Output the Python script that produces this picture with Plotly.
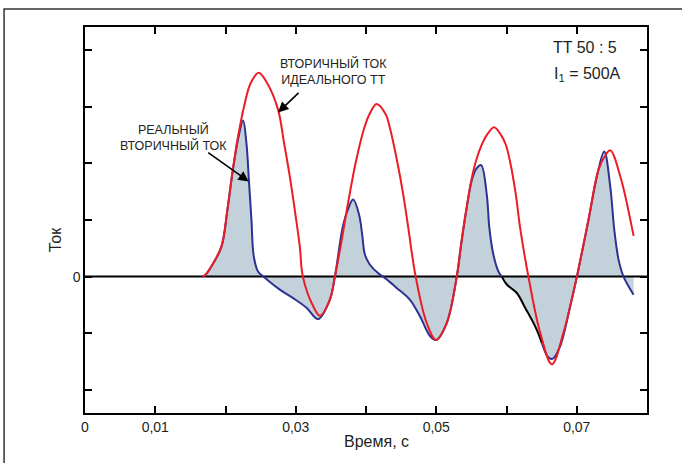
import plotly.graph_objects as go

# ---- data (time in s, current in relative units) ----
time_ideal = [0.01671, 0.01718, 0.01799, 0.01942, 0.02027, 0.02098, 0.02178, 0.02274, 0.02359,
              0.02473, 0.02592, 0.02748, 0.02834, 0.02915, 0.02986, 0.03058, 0.03101, 0.03247,
              0.03343, 0.03485, 0.03557, 0.03642, 0.03723, 0.03856, 0.03974, 0.04046, 0.04151,
              0.04284, 0.04341, 0.04445, 0.04530, 0.04602, 0.04707, 0.04864, 0.04996, 0.05149,
              0.05292, 0.05353, 0.05424, 0.05505, 0.05562, 0.05648, 0.05719, 0.05823, 0.05923,
              0.05990, 0.06051, 0.06133, 0.06194, 0.06312, 0.06479, 0.06646, 0.06811,
              0.07002, 0.07168, 0.07310, 0.07401, 0.07477, 0.07620, 0.07809]
current_ideal = [0.0, 0.035, 0.18, 0.53, 1.18, 1.83, 2.47, 3.06, 3.42,
                 3.60, 3.42, 2.95, 2.36, 1.77, 1.18, 0.53, 0.0, -0.52,
                 -0.69, -0.41, 0.0, 0.56, 1.15, 2.03, 2.62, 2.86, 3.05,
                 2.86, 2.62, 2.03, 1.45, 0.86, 0.0, -0.82, -1.12, -0.82,
                 0.0, 0.56, 1.15, 1.74, 2.03, 2.33, 2.50, 2.64, 2.50,
                 2.33, 2.03, 1.45, 0.86, 0.0, -0.99, -1.55, -0.99,
                 0.0, 1.01, 1.89, 2.13, 2.23, 1.77, 0.72]

time_real = [0.01671, 0.01718, 0.01799, 0.01942, 0.02027, 0.02098, 0.02178, 0.02250, 0.02298,
             0.02335, 0.02369, 0.02402, 0.02463, 0.02559, 0.02773, 0.02962, 0.03153, 0.03319,
             0.03485, 0.03557, 0.03666, 0.03732, 0.03817, 0.03902, 0.03946, 0.03984, 0.04056,
             0.04198, 0.04245, 0.04436, 0.04626, 0.04768, 0.04911, 0.04996, 0.05149, 0.05292,
             0.05353, 0.05424, 0.05505, 0.05567, 0.05638, 0.05719, 0.05756, 0.05813, 0.05885, 0.05933,
             0.06004, 0.06147, 0.06265, 0.06408, 0.06503,
             0.06597, 0.06660, 0.06764, 0.06907, 0.07002, 0.07168, 0.07292, 0.07391, 0.07477,
             0.07534, 0.07595, 0.07666, 0.07809]
current_real = [0.0, 0.035, 0.18, 0.53, 1.18, 1.83, 2.42, 2.76, 2.36,
                1.66, 1.01, 0.36, 0.09, -0.02, -0.23, -0.38, -0.55, -0.75,
                -0.41, 0.0, 0.86, 1.15, 1.36, 1.09, 0.74, 0.39, 0.21,
                0.035, 0.0, -0.20, -0.41, -0.70, -1.05, -1.12, -0.82, 0.0,
                0.56, 1.15, 1.70, 1.90, 1.97, 1.45, 0.86, 0.39, 0.09, 0.0,
                -0.14, -0.29, -0.55, -0.88, -1.17,
                -1.43, -1.45, -1.23, -0.52, 0.0, 1.01, 1.80, 2.21, 1.59,
                0.83, 0.30, 0.0, -0.32]

# index range of the real-current curve drawn in black
black_start, black_end = 45, 50

x_tick_values = [0.0, 0.01, 0.02, 0.03, 0.04, 0.05, 0.06, 0.07, 0.08]
x_tick_labels = ["0", "0,01", "", "0,03", "", "0,05", "", "0,07", ""]
y_tick_values = [-2, -1, 0, 1, 2, 3, 4]
y_tick_labels = ["", "", "0", "", "", "", ""]

RED = "#ed1c24"
BLUE = "#2e3192"
FILL = "#c3d1db"
TXT = "#231f20"
FONT = "Liberation Sans, Arial, sans-serif"
SMOOTH = 1.0

fig = go.Figure()

# filled area of the real current
fig.add_trace(go.Scatter(x=time_real, y=current_real, mode="lines", fill="tozeroy",
                         fillcolor=FILL, line=dict(width=0, shape="spline", smoothing=SMOOTH),
                         hoverinfo="skip", showlegend=False))
# zero line
fig.add_trace(go.Scatter(x=[x_tick_values[0], x_tick_values[-1]], y=[0, 0], mode="lines",
                         line=dict(color="#000000", width=2), hoverinfo="skip", showlegend=False))
# real current: blue parts and black part
blue_x = time_real[:black_start + 1] + [None] + time_real[black_end:]
blue_y = current_real[:black_start + 1] + [None] + current_real[black_end:]
fig.add_trace(go.Scatter(x=blue_x, y=blue_y, mode="lines", connectgaps=False,
                         line=dict(color=BLUE, width=2, shape="spline", smoothing=SMOOTH),
                         showlegend=False))
fig.add_trace(go.Scatter(x=time_real[black_start:black_end + 1],
                         y=current_real[black_start:black_end + 1], mode="lines",
                         line=dict(color="#000000", width=2, shape="spline", smoothing=SMOOTH),
                         showlegend=False))
# ideal current
fig.add_trace(go.Scatter(x=time_ideal, y=current_ideal, mode="lines",
                         line=dict(color=RED, width=2, shape="spline", smoothing=SMOOTH),
                         showlegend=False))

axis_common = dict(showline=True, linecolor="#000000", linewidth=1.5, mirror="ticks",
                   ticks="inside", ticklen=7, tickwidth=1.5, tickcolor="#000000",
                   showgrid=False, zeroline=False,
                   tickfont=dict(family=FONT, size=14, color=TXT))

fig.update_layout(
    width=682, height=463,
    margin=dict(l=85, r=35, t=27, b=50),
    paper_bgcolor="white", plot_bgcolor="white",
    xaxis=dict(range=[0, 0.08], tickmode="array", tickvals=x_tick_values,
               ticktext=x_tick_labels, **axis_common),
    yaxis=dict(range=[-2.41, 4.41], tickmode="array", tickvals=y_tick_values,
               ticktext=y_tick_labels, **axis_common),
    font=dict(family=FONT, color=TXT),
)

def label(text, x, y, size, **kw):
    return dict(text=text, x=x, y=y, xref="paper", yref="paper", xanchor="center",
                yanchor="middle", showarrow=False,
                font=dict(size=size, family=FONT, color=TXT), **kw)

annots = [
    label("ВТОРИЧНЫЙ ТОК<br>ИДЕАЛЬНОГО ТТ", 0.443, 0.885, 12.5, align="center"),
    label("РЕАЛЬНЫЙ<br>ВТОРИЧНЫЙ ТОК", 0.157, 0.715, 12.5, align="center"),
    label("TT 50 : 5", 0.890, 0.946, 16),
    label("I<sub>1</sub> = 500A", 0.894, 0.876, 16),
    label("Ток", -0.053, 0.448, 16, textangle=-90),
    label("Время, с", 0.518, -0.075, 16),
    # arrows
    dict(text="", x=0.02748, y=2.90, xref="x", yref="y", ax=22, ay=-21,
         showarrow=True, arrowhead=2, arrowsize=1.3, arrowwidth=1.6, arrowcolor="#000000"),
    dict(text="", x=0.02331, y=1.68, xref="x", yref="y", ax=-42, ay=-30,
         showarrow=True, arrowhead=2, arrowsize=1.3, arrowwidth=1.6, arrowcolor="#000000"),
]
fig.update_layout(annotations=annots)

# outer frame of the figure
fig.add_shape(type="rect", xref="paper", yref="paper", x0=-0.144, x1=1.1, y0=-0.2, y1=1.0466,
              line=dict(color="#333333", width=1.5), fillcolor="rgba(0,0,0,0)", layer="below")

fig.write_html("out.html", config={"displayModeBar": False},
               post_script="document.body.style.margin='0';document.body.style.overflow='hidden';")
